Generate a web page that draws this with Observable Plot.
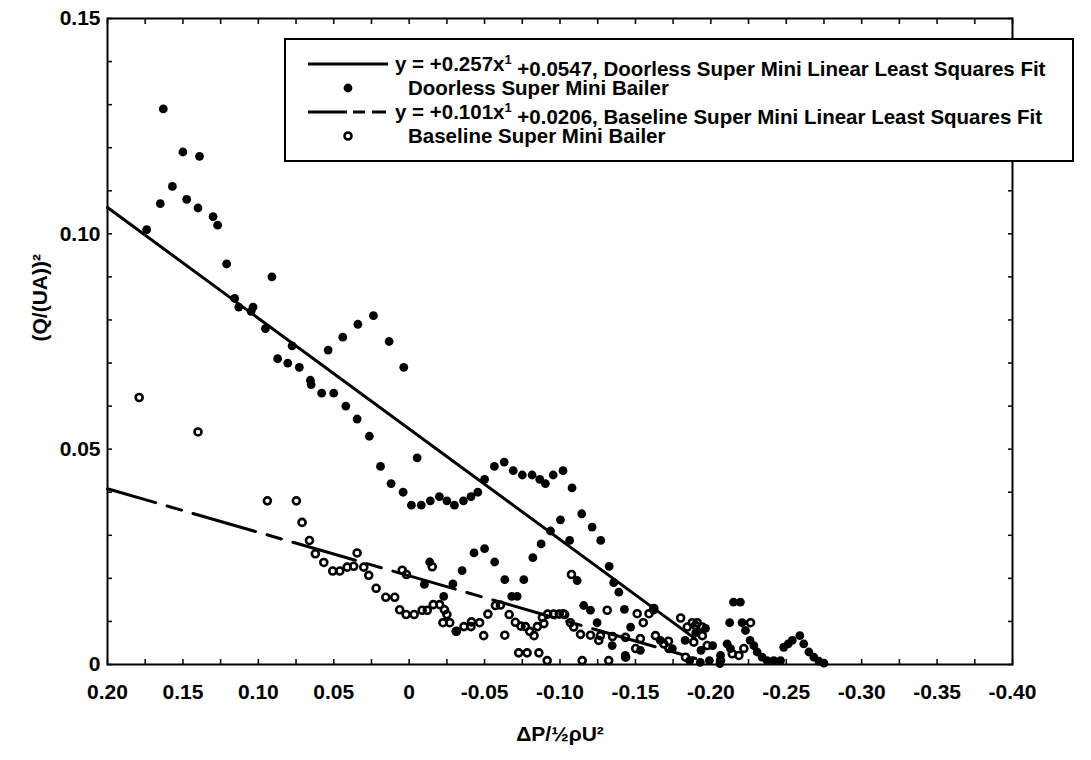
<!DOCTYPE html>
<html><head><meta charset="utf-8">
<script src="https://cdn.jsdelivr.net/npm/d3@7"></script>
<script src="https://cdn.jsdelivr.net/npm/@observablehq/plot@0.6"></script>
<style>
body{margin:0;background:#fff;}
#wrap{position:relative;width:1091px;height:760px;font-family:"Liberation Sans",Arial,sans-serif;font-weight:bold;}
#legend{position:absolute;left:284px;top:38px;}
</style></head>
<body><div id="wrap"><div id="chart"></div><svg id="legend"></svg></div>
<script>
// ---- data ----
const doorlessX = [
 0.163,0.174,0.165,0.157,0.150,0.1475,0.139,0.140,0.130,0.127,
 0.121,0.1157,0.113,0.1035,0.1048,0.091,0.0953,0.0776,0.0872,0.0805,
 0.0728,0.0655,0.065,0.058,0.050,0.042,0.0345,0.0537,0.044,0.034,
 0.0237,0.0133,0.0036,0.0264,-0.0053,0.019,0.012,0.004,-0.0015,-0.008,
 -0.014,-0.020,-0.025,-0.030,-0.036,-0.041,-0.0455,-0.050,-0.0565,-0.063,
 -0.069,-0.075,-0.0815,-0.0866,-0.0903,-0.0955,-0.102,-0.108,-0.1144,-0.1003,
 -0.0937,-0.0875,-0.082,-0.076,-0.0634,-0.068,-0.0716,-0.0567,-0.050,-0.043,
 -0.0351,-0.029,-0.0229,-0.0101,-0.0136,-0.031,-0.1213,-0.127,-0.1064,-0.1326,
 -0.1356,-0.139,-0.1114,-0.1157,-0.1202,-0.1427,-0.1246,-0.1468,-0.162,-0.215,
 -0.2196,-0.2125,-0.2207,-0.223,-0.226,-0.2285,-0.2307,-0.234,-0.2373,-0.2417,
 -0.2462,-0.2108,-0.213,-0.2483,-0.2513,-0.254,-0.259,-0.2616,-0.265,-0.2683,
 -0.2716,-0.275,-0.186,-0.193,-0.199,-0.206,-0.1665,-0.1745,-0.183,-0.1935,
 -0.2012,-0.2064,-0.19,-0.1965,-0.1346,-0.1433,-0.1533
];
const doorlessY = [
 0.129,0.101,0.107,0.111,0.119,0.108,0.118,0.106,0.104,0.102,
 0.093,0.085,0.083,0.083,0.082,0.090,0.078,0.074,0.071,0.070,
 0.069,0.066,0.065,0.063,0.063,0.060,0.057,0.073,0.076,0.079,
 0.081,0.075,0.069,0.053,0.048,0.046,0.042,0.040,0.037,0.037,
 0.038,0.039,0.038,0.037,0.038,0.039,0.040,0.043,0.046,0.047,
 0.045,0.044,0.044,0.043,0.042,0.044,0.045,0.041,0.035,0.0336,
 0.031,0.028,0.0248,0.0197,0.0197,0.0158,0.0158,0.0238,0.0269,0.0259,
 0.0218,0.0187,0.0158,0.0186,0.0238,0.0077,0.0319,0.0288,0.0288,0.0228,
 0.019,0.0168,0.0195,0.0137,0.0126,0.0128,0.0097,0.0087,0.0126,0.0145,
 0.0145,0.0097,0.0097,0.0079,0.0056,0.0044,0.0029,0.0017,0.0009,0.0009,
 0.0009,0.0048,0.0037,0.004,0.0048,0.0056,0.0067,0.0048,0.0029,0.0017,
 0.0008,0.0003,0.0009,0.0005,0.0009,0.0002,0.0056,0.0037,0.0056,0.0033,
 0.0044,0.0021,0.0074,0.0084,0.0044,0.0021,0.0033
];
const baselineX = [
 0.179,0.140,0.094,0.0748,0.071,0.0661,0.0622,0.0566,0.0507,0.046,
 0.0411,0.0368,0.0345,0.0301,0.0268,0.0219,0.0155,0.0096,0.0063,0.002,
 -0.0033,-0.0086,-0.012,-0.016,-0.0202,-0.0234,-0.025,-0.0224,-0.0269,-0.0313,
 -0.0363,-0.041,-0.0413,-0.0467,-0.0494,-0.0522,-0.0572,-0.0605,-0.0634,-0.0663,
 -0.0704,-0.0741,-0.0771,-0.0799,-0.0828,-0.085,-0.0883,-0.0918,-0.0958,-0.0995,
 -0.1031,-0.1069,-0.1091,-0.0726,-0.0782,-0.086,-0.0915,0.0046,0.0018,-0.0153,
 -0.1076,-0.1021,-0.0893,-0.1313,-0.1512,-0.1552,-0.159,-0.1622,-0.18,-0.1844,
 -0.1877,-0.191,-0.1944,-0.2263,-0.2219,-0.2142,-0.2186,-0.1502,-0.1435,-0.1147,
 -0.1323,-0.1832,-0.1944,-0.1887,-0.1976,-0.1633,-0.1688,-0.1722,-0.1257,-0.1898,
 -0.1136,-0.1202,-0.1268,-0.1348,-0.1434,-0.1533,-0.1719,-0.2064
];
const baselineY = [
 0.062,0.054,0.038,0.038,0.033,0.0288,0.0257,0.0237,0.0217,0.0217,
 0.0226,0.0228,0.0259,0.0226,0.0207,0.0177,0.0156,0.0156,0.0127,0.0116,
 0.0116,0.0126,0.0126,0.0139,0.0139,0.0127,0.0116,0.0097,0.0097,0.0077,
 0.0088,0.0088,0.0099,0.0097,0.0067,0.0117,0.0137,0.0138,0.0068,0.0116,
 0.0098,0.0089,0.0088,0.0077,0.0067,0.0088,0.0109,0.0117,0.0117,0.0117,
 0.0116,0.0097,0.0087,0.0027,0.0027,0.0027,0.0009,0.0219,0.0209,0.0227,
 0.0209,0.0118,0.0095,0.0126,0.0118,0.0097,0.0118,0.013,0.0108,0.0087,
 0.0097,0.0097,0.0087,0.0097,0.0037,0.0025,0.0021,0.0037,0.0017,0.0009,
 0.0009,0.0017,0.0067,0.0052,0.0044,0.0067,0.0048,0.0037,0.0056,0.0091,
 0.007,0.0068,0.0067,0.0065,0.0063,0.006,0.0054,0.0009
];
// least squares fit lines (end points)
const fitDoorlessX = [0.20, -0.19];
const fitDoorlessY = [0.1061, 0.0059];
const fitBaselineX = [0.20, -0.19];
const fitBaselineY = [0.0408, 0.0014];

const xTickValues = [0.20,0.15,0.10,0.05,0,-0.05,-0.10,-0.15,-0.20,-0.25,-0.30,-0.35,-0.40];
const yTickValues = [0,0.05,0.10,0.15];
const xMinorTicks = d3.range(0,25).map(i => 0.2 - i*0.025);
const yMinorTicks = d3.range(0,16).map(i => i*0.01);

const xTitle = "\u0394P/\u00bd\u03c1U\u00b2";
const yTitle = "(Q/(UA))\u00b2";
const legendLabels = [
  ["y = +0.257x", "1", " +0.0547, Doorless Super Mini Linear Least Squares Fit"],
  ["Doorless Super Mini Bailer"],
  ["y = +0.101x", "1", " +0.0206, Baseline Super Mini Linear Least Squares Fit"],
  ["Baseline Super Mini Bailer"]
];

// ---- tables ----
const doorless = doorlessX.map((x,i)=>({x, y: doorlessY[i]}));
const baseline = baselineX.map((x,i)=>({x, y: baselineY[i]}));
const fitD = fitDoorlessX.map((x,i)=>({x, y: fitDoorlessY[i]}));
const fitB = fitBaselineX.map((x,i)=>({x, y: fitBaselineY[i]}));

const fmt = d => d === 0 ? "0" : d.toFixed(2);
const FONT = '"Liberation Sans", Arial, sans-serif';
const blank = () => "";

const chart = Plot.plot({
  width: 1091, height: 760,
  marginLeft: 107, marginRight: 79, marginTop: 18, marginBottom: 96,
  style: {fontFamily: FONT, fontWeight: "bold", fontSize: "21px", color: "#000", background: "#fff"},
  x: {domain: [0.2, -0.4]},
  y: {domain: [0, 0.15]},
  marks: [
    Plot.axisX(xMinorTicks, {anchor: "bottom", tickSize: -5, strokeWidth: 1.5, tickFormat: blank, label: null}),
    Plot.axisX(xMinorTicks, {anchor: "top", tickSize: -5, strokeWidth: 1.5, tickFormat: blank, label: null}),
    Plot.axisY(yMinorTicks, {anchor: "left", tickSize: -5, strokeWidth: 1.5, tickFormat: blank, label: null}),
    Plot.axisY(yMinorTicks, {anchor: "right", tickSize: -5, strokeWidth: 1.5, tickFormat: blank, label: null}),
    Plot.axisX(xTickValues, {anchor: "bottom", tickSize: 0, tickPadding: 20, tickFormat: fmt, label: null}),
    Plot.axisY(yTickValues, {anchor: "left", tickSize: 0, tickPadding: 7, tickFormat: fmt, label: null}),
    Plot.line(fitD, {x: "x", y: "y", stroke: "#000", strokeWidth: 3}),
    Plot.line(fitB, {x: "x", y: "y", stroke: "#000", strokeWidth: 3, strokeDasharray: "65,12,15,12", strokeDashoffset: 15}),
    Plot.dot(baseline, {x: "x", y: "y", r: 3.5, stroke: "#000", strokeWidth: 2.6, fill: "none"}),
    Plot.dot(doorless, {x: "x", y: "y", r: 4.4, fill: "#000", stroke: "none"}),
    Plot.frame({stroke: "#000", strokeWidth: 2}),
    Plot.text([xTitle], {frameAnchor: "bottom", dy: 76, fontSize: 21}),
    Plot.text([yTitle], {frameAnchor: "left", dx: -67, rotate: -90, fontSize: 21})
  ]
});
document.getElementById("chart").appendChild(chart);

// ---- legend ----
const LW = 790, LH = 124;
const lg = d3.select("#legend").attr("width", LW).attr("height", LH);
lg.append("rect").attr("x",1).attr("y",1).attr("width",LW-2).attr("height",LH-2)
  .attr("fill","#fff").attr("stroke","#000").attr("stroke-width",2);
const rowY = [26, 50, 74, 98];
const textX = [111, 124, 111, 124];
// samples
lg.append("line").attr("x1",24).attr("x2",104).attr("y1",rowY[0]).attr("y2",rowY[0]).attr("stroke","#000").attr("stroke-width",3);
lg.append("circle").attr("cx",64).attr("cy",rowY[1]).attr("r",4.4).attr("fill","#000");
lg.append("line").attr("x1",24).attr("x2",104).attr("y1",rowY[2]).attr("y2",rowY[2]).attr("stroke","#000").attr("stroke-width",3).attr("stroke-dasharray","39,6,12,7,14,10");
lg.append("circle").attr("cx",64).attr("cy",rowY[3]).attr("r",3.5).attr("fill","none").attr("stroke","#000").attr("stroke-width",2.6);
legendLabels.forEach((parts,i) => {
  const t = lg.append("text").attr("x", textX[i]).attr("y", rowY[i]).attr("dy","0.36em")
    .attr("font-family", FONT).attr("font-weight","bold").attr("font-size",20.5).attr("fill","#000");
  t.append("tspan").text(parts[0]);
  if (parts.length > 1) {
    t.append("tspan").attr("dy","-0.55em").attr("font-size",13).text(parts[1]);
    t.append("tspan").attr("dy","0.55em").text(parts[2]);
  }
});
</script>
</body></html>
